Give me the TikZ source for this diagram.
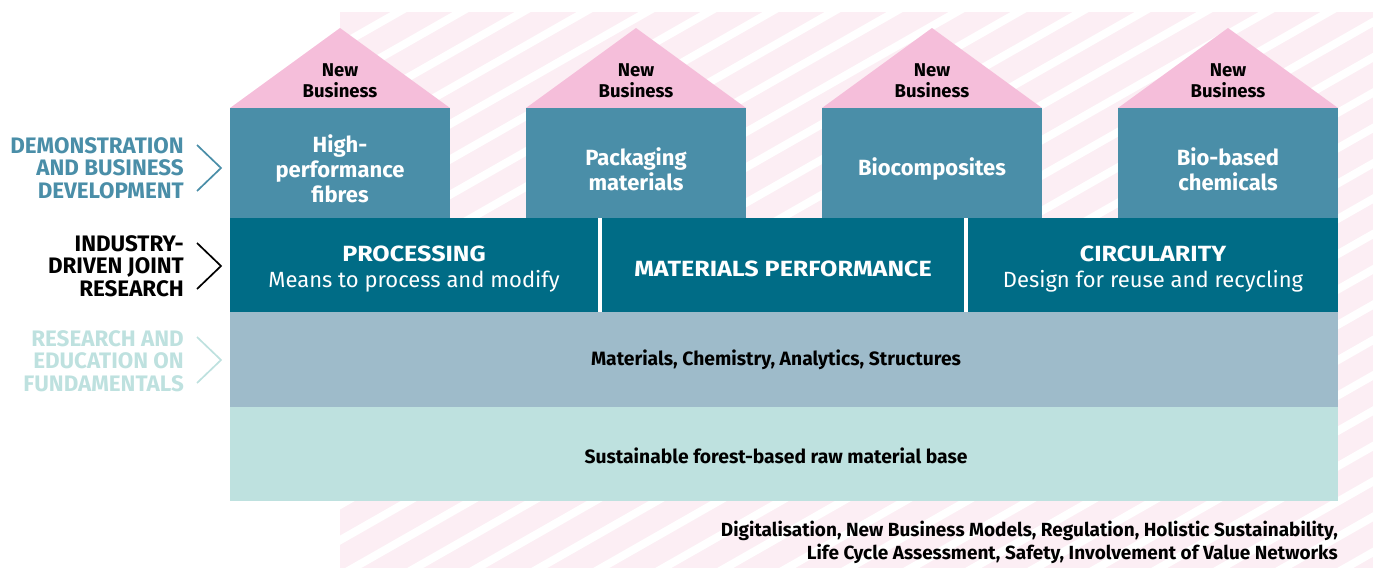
\documentclass[tikz,border=0pt]{standalone}
\usepackage{fontspec}
\setmainfont{Fira Sans}
\newfontfamily\widefont[FakeStretch=1.14]{Fira Sans}
\definecolor{bgpink}{HTML}{FCEEF4}
\definecolor{roofpink}{HTML}{F5BEDA}
\definecolor{houseblue}{HTML}{4A8EA8}
\definecolor{midblue}{HTML}{006C86}
\definecolor{resblue}{HTML}{9EBBCA}
\definecolor{basegreen}{HTML}{BEE1DF}
\begin{document}
\begin{tikzpicture}[x=1pt,y=-1pt,
  roof/.style={fill=roofpink},
  hbox/.style={fill=houseblue, draw=none, minimum width=220pt, minimum height=110pt, inner sep=0pt},
  htext/.style={text=white, font=\bfseries\fontsize{22}{25}\selectfont, align=center, inner sep=0pt},
  nbtext/.style={text=black, font=\bfseries\fontsize{18.5}{21}\selectfont, align=center, inner sep=0pt},
  bandtext/.style={text=white, font=\fontsize{22}{26}\selectfont, align=center, inner sep=0pt},
  lowtext/.style={text=black, font=\bfseries\fontsize{19.3}{21}\selectfont, align=center, inner sep=0pt},
  sidelabel/.style={font=\bfseries\fontsize{22.4}{22.5}\selectfont, align=right, anchor=east, inner sep=0pt},
  chev/.style={line width=1.7pt, line cap=butt, line join=miter},
  stripe/.style={white, line width=8pt}
]
\useasboundingbox (0,0) rectangle (1378,570);
% hatched background
\fill[bgpink] (340,12) rectangle (1373,568);
\begin{scope}
  \clip (340,12) rectangle (1373,568);
  \foreach \i in {-14,...,20} {
    \draw[stripe] ({407+62*\i-200},{502+114}) -- ({407+62*\i+1200},{502-684});
  }
\end{scope}
% houses
\foreach \n/\cx in {1/340,2/636,3/932,4/1228} {
  \fill[roof] ({\cx-110},108) -- (\cx,28) -- ({\cx+110},108) -- cycle;
  \node[hbox] (h\n) at (\cx,163) {};
  \node[nbtext] (nb\n) at (\cx,81) {New\\Business};
}
\node[htext] (t1) at (340,169) {High-\\performance\\fibres};
\node[htext] (t2) at (636,169.5) {Packaging\\materials};
\node[htext] (t3) at (932,169) {Biocomposites};
\node[htext] (t4) at (1228,169.5) {Bio-based\\chemicals};
% middle band
\fill[midblue] (230,218) rectangle (1338,312);
\fill[white] (598,218) rectangle (602,312);
\fill[white] (964,218) rectangle (968,312);
\node[bandtext] (p1) at (414,269.5) {{\widefont\bfseries PROCESSING}\\Means to process and modify};
\node[bandtext, font=\widefont\bfseries\fontsize{22}{26}\selectfont] (p2) at (783,269) {MATERIALS PERFORMANCE};
\node[bandtext] (p3) at (1153,269.5) {{\widefont\bfseries CIRCULARITY}\\Design for reuse and recycling};
% lower bands
\node[fill=resblue, minimum width=1108pt, minimum height=95pt, inner sep=0pt, anchor=north west] (r) at (230,312) {};
\node[fill=basegreen, minimum width=1108pt, minimum height=94pt, inner sep=0pt, anchor=north west] (b) at (230,407) {};
\node[lowtext] (rt) at (776,360) {Materials, Chemistry, Analytics, Structures};
\node[lowtext] (bt) at (776,456) {Sustainable forest-based raw material base};
% side labels
\node[sidelabel, text=houseblue] (l1) at (184,168) {DEMONSTRATION\\AND BUSINESS\\DEVELOPMENT};
\node[sidelabel, text=black] (l2) at (184,266) {INDUSTRY-\\DRIVEN JOINT\\RESEARCH};
\node[sidelabel, text=basegreen] (l3) at (184,361) {RESEARCH AND\\EDUCATION ON\\FUNDAMENTALS};
\draw[chev, houseblue] (197,145) -- (221,168) -- (197,191);
\draw[chev, black] (197,243) -- (221,266) -- (197,289);
\draw[chev, basegreen] (197,337) -- (221,360) -- (197,383);
% bottom note
\node[font=\bfseries\fontsize{19}{23}\selectfont, align=right, anchor=east, inner sep=0pt] (note) at (1338,542)
  {Digitalisation, New Business Models, Regulation, Holistic Sustainability,\\Life Cycle Assessment, Safety, Involvement of Value Networks};
\end{tikzpicture}
\end{document}
